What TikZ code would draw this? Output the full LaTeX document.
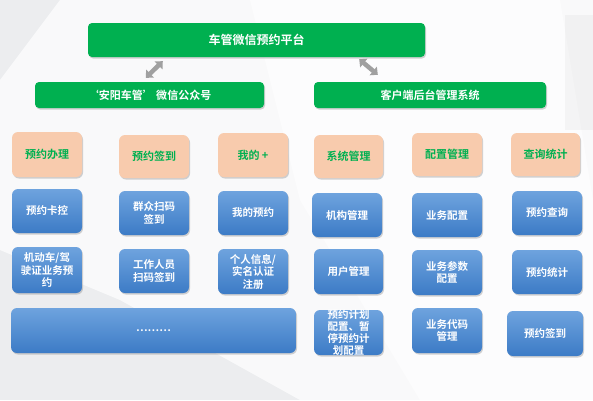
\documentclass[tikz,border=0pt]{standalone}
\usepackage{fontspec}
\setmainfont{Noto Sans CJK SC}[BoldFont={Noto Sans CJK SC Bold}]
\usetikzlibrary{shadows,arrows.meta,calc}
\definecolor{pptgreen}{HTML}{00B050}
\definecolor{peach}{HTML}{F8CBAD}
\definecolor{bluetop}{HTML}{6EA3DE}
\definecolor{bluebot}{HTML}{3C7BC6}
\definecolor{arrgray}{HTML}{A0A0A0}
\definecolor{bgA}{HTML}{ECEDEF}
\begin{document}
\begin{tikzpicture}[x=1pt,y=-1pt,
  shad/.style={drop shadow={opacity=0.35,shadow xshift=1pt,shadow yshift=-1.5pt}},
  greenbox/.style={rounded corners=4pt,fill=pptgreen,text=white,inner sep=0,shad,
    font=\bfseries\fontsize{11}{13}\selectfont},
  peachbox/.style={rounded corners=6pt,fill=peach,text=pptgreen,inner sep=0,shad,
    minimum width=70pt,minimum height=44pt,font=\bfseries\fontsize{11}{13}\selectfont},
  bluebox/.style={rounded corners=6pt,top color=bluetop,bottom color=bluebot,text=white,inner sep=0,shad,
    minimum width=70pt,minimum height=44pt,align=center,font=\bfseries\fontsize{10.5}{12.5}\selectfont},
  dblarrow/.style={line width=4.5pt,arrgray,{Triangle[width=11pt,length=6pt]}-{Triangle[width=11pt,length=6pt]}}
]
\useasboundingbox (0,0) rectangle (593,400);
% background
\fill[bgA] (0,0) rectangle (593,400);
\fill[white,opacity=0.7] (60,0) -- (593,0) -- (593,400) -- (300,400) -- (120,300) -- (0,250) -- (0,80) -- cycle;
\fill[white,opacity=0.6] (250,0) -- (560,0) -- (593,200) -- (593,400) -- (420,400) -- (300,200) -- cycle;
\fill[gray,opacity=0.06] (565,15) rectangle (593,130);

% top level
\node[greenbox,minimum width=337pt,minimum height=34pt,font=\bfseries\fontsize{12}{14}\selectfont] (top) at (256.5,40) {车管微信预约平台};
\node[greenbox,minimum width=229pt,minimum height=26pt] (wx) at (149.5,95) {‘安阳车管’ 微信公众号};
\node[greenbox,minimum width=232pt,minimum height=26pt] (kh) at (430,95) {客户端后台管理系统};

\draw[dblarrow] ($(top.south west)+(75,4)$) -- ($(wx.north west)+(111,-4)$);
\draw[dblarrow] ($(top.south east)+(-66,2)$) -- ($(kh.north west)+(64,-7)$);

% orange row
\node[peachbox,minimum height=45pt] (o1) at (47,154.5) {预约办理};
\node[peachbox,minimum height=43pt] (o2) at (154,156.5) {预约签到};
\node[peachbox] (o3) at (253,155) {我的 +};
\node[peachbox,minimum height=43pt,minimum width=69pt] (o4) at (348.5,156.5) {系统管理};
\node[peachbox,minimum height=43pt] (o5) at (447,154.5) {配置管理};
\node[peachbox,minimum height=43pt,minimum width=69pt] (o6) at (545.5,154.5) {查询统计};

% blue row 1
\node[bluebox] (b11) at (47,211) {预约卡控};
\node[bluebox] (b12) at (154,213) {群众扫码\\签到};
\node[bluebox] (b13) at (253,213) {我的预约};
\node[bluebox] (b14) at (347,215) {机构管理};
\node[bluebox] (b15) at (447,215) {\raisebox{-5pt}{业务配置}};
\node[bluebox] (b16) at (547,213) {预约查询};

% blue row 2
\node[bluebox,minimum height=46pt] (b21) at (47,270) {机动车/驾\\驶证业务预\\约};
\node[bluebox] (b22) at (154,271) {工作人员\\扫码签到};
\node[bluebox,minimum height=45pt] (b23) at (253,271.5) {个人信息/\\实名认证\\注册};
\node[bluebox,minimum height=45pt,minimum width=69pt] (b24) at (348.5,271.5) {用户管理};
\node[bluebox,minimum height=45pt] (b25) at (447,272.5) {业务参数\\配置};
\node[bluebox] (b26) at (547,272) {预约统计};

% blue row 3
\node[bluebox,minimum width=285pt,minimum height=45pt] (wide) at (153.5,330.5) {………};
\node[bluebox,minimum height=45pt,minimum width=69pt] (b34) at (348.5,332.5) {};
\node[text=white,align=center,inner sep=0,font=\bfseries\fontsize{10.5}{12.3}\selectfont] (b34t) at (b34.center) {预约计划\\配置、暂\\停预约计\\划配置};
\node[bluebox,minimum height=45pt] (b35) at (447,330.5) {业务代码\\管理};
\node[bluebox,minimum height=45pt,minimum width=76pt] (b36) at (545,333.5) {预约签到};
\end{tikzpicture}
\end{document}
